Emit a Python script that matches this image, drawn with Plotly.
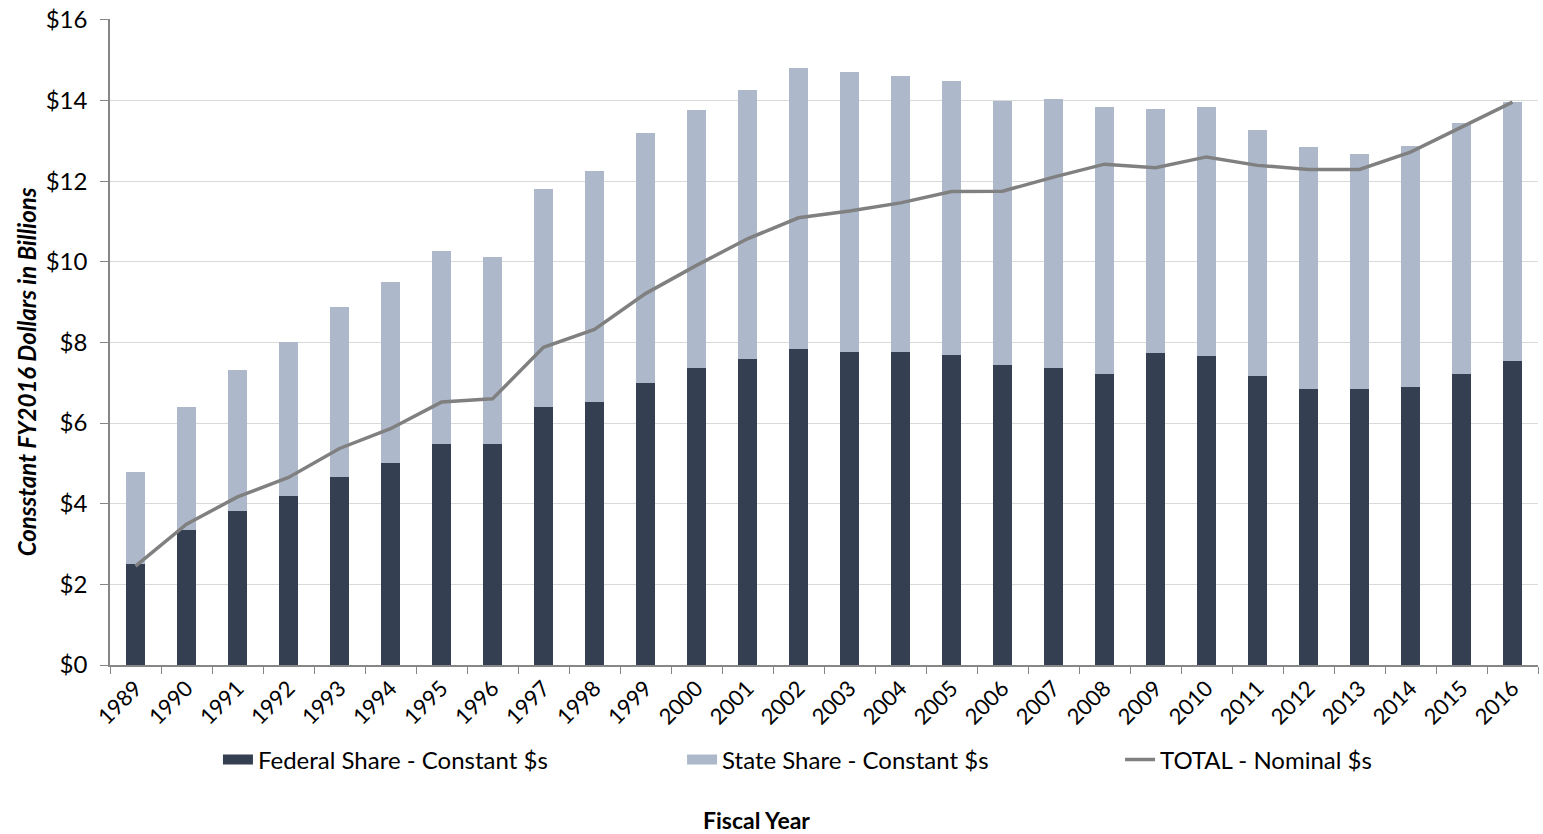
import plotly.graph_objects as go

years = [str(y) for y in range(1989, 2017)]
federal = [2.50, 3.34, 3.81, 4.19, 4.65, 5.01, 5.48, 5.49, 6.40, 6.51,
           6.99, 7.36, 7.58, 7.83, 7.76, 7.76, 7.70, 7.44, 7.37, 7.22,
           7.74, 7.67, 7.16, 6.84, 6.84, 6.89, 7.22, 7.54]
total_constant = [4.78, 6.41, 7.31, 8.00, 8.87, 9.51, 10.27, 10.13, 11.80, 12.24,
                  13.20, 13.77, 14.27, 14.81, 14.70, 14.60, 14.48, 13.98, 14.03, 13.83,
                  13.80, 13.85, 13.27, 12.84, 12.66, 12.88, 13.45, 13.95]
state = [round(t - f, 2) for t, f in zip(total_constant, federal)]
total_nominal = [2.45, 3.49, 4.17, 4.65, 5.37, 5.86, 6.52, 6.60, 7.88, 8.32,
                 9.21, 9.91, 10.57, 11.09, 11.26, 11.46, 11.74, 11.75, 12.10, 12.42,
                 12.33, 12.60, 12.39, 12.29, 12.29, 12.72, 13.34, 13.96]
y_tickvals = [0, 2, 4, 6, 8, 10, 12, 14, 16]
y_ticktext = ["$0", "$2", "$4", "$6", "$8", "$10", "$12", "$14", "$16"]

names = ["Federal Share - Constant $s", "State Share - Constant $s", "TOTAL - Nominal $s"]
colors = ["#343f52", "#adb9cb", "#808080"]

FONT = "Lato, Carlito, Calibri, sans-serif"

fig = go.Figure()
fig.add_trace(go.Bar(x=years, y=federal, name=names[0], showlegend=False,
                     marker=dict(color=colors[0], line=dict(width=0))))
fig.add_trace(go.Bar(x=years, y=state, name=names[1], showlegend=False,
                     marker=dict(color=colors[1], line=dict(width=0))))
fig.add_trace(go.Scatter(x=years, y=total_nominal, name=names[2], showlegend=False,
                         mode="lines", line=dict(color=colors[2], width=3.5)))

# legend entries (wide swatches like the original)
for nm, col, lw, lg in zip(names, colors, [15, 15, 3.5], ["legend", "legend2", "legend3"]):
    fig.add_trace(go.Scatter(x=[None], y=[None], name=nm, mode="lines",
                             line=dict(color=col, width=lw), legend=lg, hoverinfo="skip"))

legend_common = dict(orientation="h", y=-0.147, yanchor="middle", xanchor="left",
                     font=dict(size=24, family=FONT, color="#000000"),
                     bgcolor="rgba(0,0,0,0)")

fig.update_layout(
    width=1543, height=834,
    barmode="stack", bargap=0.61,
    plot_bgcolor="white", paper_bgcolor="white",
    margin=dict(l=110, r=5, t=19, b=169),
    font=dict(family=FONT, color="#000000", size=22),
    showlegend=True,
    legend=dict(x=0.0756, **legend_common),
    legend2=dict(x=0.4006, **legend_common),
    legend3=dict(x=0.7073, **legend_common),
    xaxis=dict(type="category", tickangle=-45, ticks="outside", tickson="boundaries",
               ticklen=7, tickcolor="#868686", showline=True, linecolor="#868686",
               linewidth=1.5, tickfont=dict(size=22, family=FONT), showgrid=False,
               automargin=False),
    yaxis=dict(range=[0, 16.02], tickmode="array", tickvals=y_tickvals, ticktext=y_ticktext,
               ticks="outside", ticklen=8, ticklabelstandoff=8, ticklabeloverflow="allow",
               tickcolor="#868686", showline=True, linecolor="#868686", linewidth=1.5,
               gridcolor="#d9d9d9", gridwidth=1.2, tickfont=dict(size=24, family=FONT),
               zeroline=False, automargin=False),
    annotations=[
        dict(text="<b><i>Consstant FY2016 Dollars in Billions</i></b>", xref="paper", yref="paper",
             x=-0.058, y=0.4536, textangle=-90, showarrow=False,
             font=dict(size=24, family=FONT), xanchor="center", yanchor="middle"),
        dict(text="<b>Fiscal Year</b>", xref="paper", yref="paper", x=0.453, y=-0.24,
             showarrow=False, font=dict(size=23, family=FONT), xanchor="center", yanchor="middle"),
    ],
)

fig.write_html("out.html", config={"displayModeBar": False},
               post_script="document.body.style.margin='0';document.body.style.overflow='hidden';")
